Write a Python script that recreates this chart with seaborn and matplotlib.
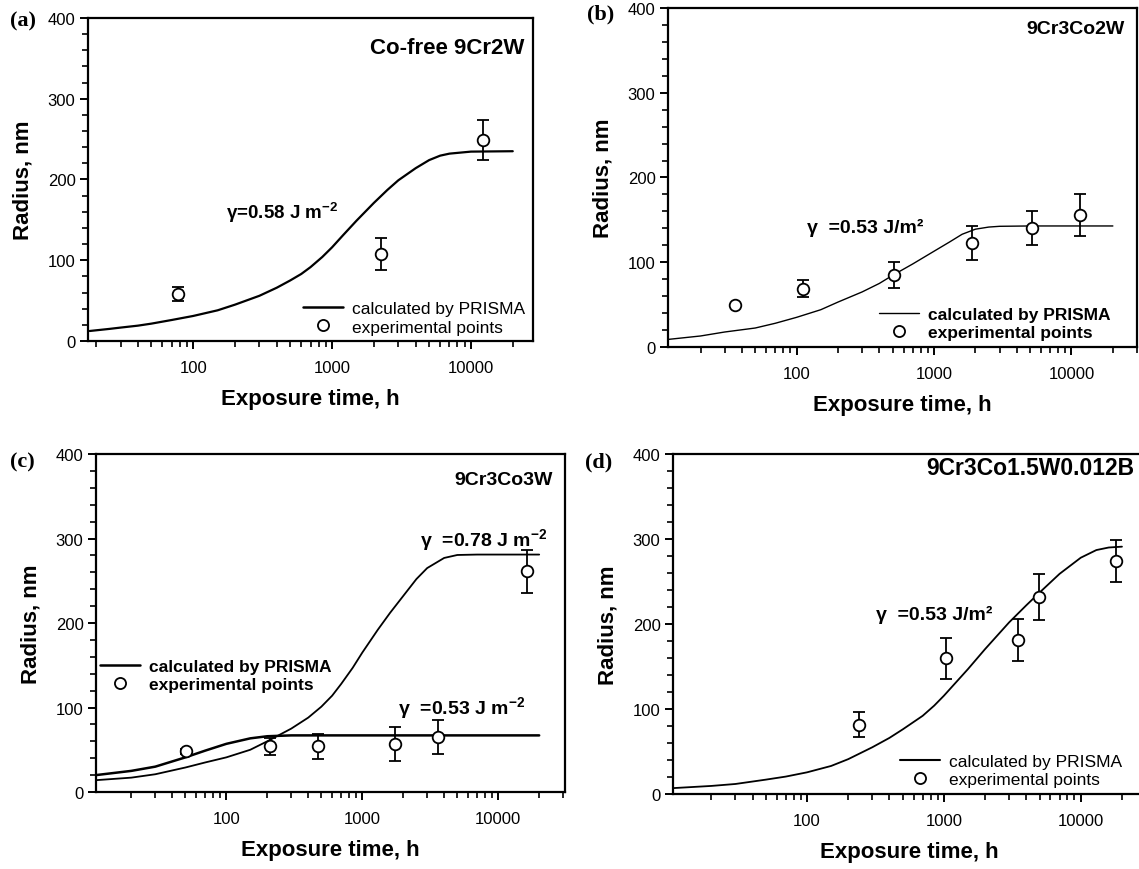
import matplotlib
matplotlib.use("Agg")
import matplotlib.pyplot as plt
import seaborn as sns
from matplotlib.lines import Line2D
from matplotlib.ticker import MultipleLocator, LogLocator, NullFormatter

# ---- data ----
# (a) Co-free 9Cr2W
a_curve_t = [18, 25, 30, 40, 50, 70, 100, 150, 200, 300, 400, 500, 600, 700, 850, 1000, 1200,
             1500, 2000, 2500, 3000, 4000, 5000, 6000, 7000, 10000, 20000]
a_curve_r = [12.4, 15, 16.6, 19, 21.5, 26, 31, 38, 45, 56, 66, 75, 83, 91.5, 104, 116, 131,
             149, 171, 187, 199, 214, 224, 229.5, 232, 234.5, 235]
a_exp_t = [78, 2250, 12300]
a_exp_r = [58, 108, 249]
a_exp_err = [9, 20, 25]

# (b) 9Cr3Co2W
b_curve_t = [11.7, 20, 30, 50, 70, 100, 150, 200, 300, 400, 500, 700, 1000, 1300, 1600,
             2000, 2500, 3000, 5000, 20000]
b_curve_r = [9, 13, 17.7, 22.4, 28, 35, 44, 53, 65, 75, 84.6, 98, 113, 124, 133,
             139, 141.5, 142.4, 142.8, 142.8]
b_exp_t = [35.6, 112, 508, 1900, 5130, 11600]
b_exp_r = [49, 69, 85, 123, 140, 156]
b_exp_err = [0, 10, 15, 20, 20, 25]

# (c) 9Cr3Co3W, two calculated curves
c_hi_t = [11, 20, 30, 50, 70, 100, 150, 200, 300, 400, 500, 600, 700, 850, 1000, 1300, 1600,
          2000, 2500, 3000, 4000, 5000, 7000, 20000]
c_hi_r = [14, 17, 21, 29, 35, 41, 50, 60, 75, 88, 101, 114, 128, 147, 165, 192, 212,
          232, 252, 265, 277, 280.5, 281, 281]
c_lo_t = [11, 20, 30, 50, 70, 100, 150, 200, 300, 20000]
c_lo_r = [20, 25, 30, 41, 49, 57, 63.5, 66, 67, 67]
c_exp_t = [50.7, 210, 469, 1740, 3600, 16400]
c_exp_r = [48, 54, 54, 57, 65, 261]
c_exp_err = [3, 10, 15, 20, 20, 25]

# (d) 9Cr3Co1.5W0.012B
d_curve_t = [10.7, 20, 30, 50, 70, 100, 150, 200, 300, 400, 500, 700, 850, 1000, 1500, 2000,
             3000, 4000, 5000, 7000, 10000, 13000, 16000, 20000]
d_curve_r = [7, 9.5, 11.8, 16.9, 20.5, 25.5, 33, 41, 55, 66, 76, 92, 104, 115.6, 147, 170.5,
             202, 222, 237, 259, 278, 287, 290, 291]
d_exp_t = [240, 1030, 3470, 4980, 18000]
d_exp_r = [81.5, 159.5, 181, 232, 274]
d_exp_err = [15, 24, 25, 27, 25]

x_ticks = [100, 1000, 10000]
x_tick_labels = ["100", "1000", "10000"]
legend_labels = ["calculated by PRISMA", "experimental points"]

sns.set_theme(style="ticks")
plt.rcParams["font.family"] = ["Liberation Sans", "DejaVu Sans"]
plt.rcParams["mathtext.default"] = "regular"
plt.rcParams["text.color"] = "black"
plt.rcParams["axes.labelcolor"] = "black"
plt.rcParams["xtick.color"] = "black"
plt.rcParams["ytick.color"] = "black"

fig = plt.figure(figsize=(11.39, 8.70), dpi=100)


def setup_axis(ax, xlim):
    ax.set_xscale("log")
    ax.set_xlim(*xlim)
    ax.set_ylim(0, 400)
    ax.set_xticks(x_ticks)
    ax.set_xticklabels(x_tick_labels)
    ax.xaxis.set_minor_locator(LogLocator(base=10, subs=range(2, 10)))
    ax.xaxis.set_minor_formatter(NullFormatter())
    ax.yaxis.set_major_locator(MultipleLocator(100))
    ax.yaxis.set_minor_locator(MultipleLocator(20))
    ax.tick_params(which="major", direction="out", length=6, width=1.4,
                   labelsize=12, color="black", labelcolor="black")
    ax.tick_params(which="minor", direction="out", length=4, width=1.2, color="black")
    ax.tick_params(axis="x", which="major", pad=8)
    ax.tick_params(axis="y", which="major", pad=3)
    for s in ax.spines.values():
        s.set_linewidth(1.6)
        s.set_color("black")
    ax.set_xlabel("Exposure time, h", fontsize=16, fontweight="bold", labelpad=9)
    ax.set_ylabel("Radius, nm", fontsize=16, fontweight="bold", labelpad=10)


def draw_points(ax, t, r, err):
    ax.errorbar(t, r, yerr=err, fmt="none", ecolor="black", elinewidth=1.3,
                capsize=4, capthick=1.3, zorder=3)
    sns.scatterplot(x=t, y=r, ax=ax, marker="o", s=70, facecolor="white",
                    edgecolor="black", linewidth=1.3, zorder=4, legend=False)


def add_legend(ax, anchor, lw, weight):
    handles = [Line2D([], [], color="black", lw=lw),
               Line2D([], [], marker="o", ls="none", mfc="white", mec="black",
                      mew=1.3, ms=8)]
    ax.legend(handles, legend_labels, loc="lower left", bbox_to_anchor=anchor,
              frameon=False, borderpad=0, borderaxespad=0, handlelength=2.3,
              handletextpad=0.5, labelspacing=0.2,
              prop={"size": 12.5, "weight": weight})


# (a)
ax_a = fig.add_axes([0.0773, 0.6069, 0.3907, 0.3713])
sns.lineplot(x=a_curve_t, y=a_curve_r, ax=ax_a, color="black", lw=1.6,
             estimator=None, sort=False)
draw_points(ax_a, a_exp_t, a_exp_r, a_exp_err)
setup_axis(ax_a, (17.5, 28000))
ax_a.text(0.98, 0.91, "Co-free 9Cr2W", transform=ax_a.transAxes, ha="right",
          va="center", fontsize=16, fontweight="bold")
ax_a.text(0.31, 0.40, "γ=0.58 J m$^{-2}$", transform=ax_a.transAxes, ha="left",
          va="center", fontsize=13.5, fontweight="bold")
add_legend(ax_a, (0.483, 0.02), 1.8, "normal")

# (b)
ax_b = fig.add_axes([0.5865, 0.6, 0.4118, 0.3897])
sns.lineplot(x=b_curve_t, y=b_curve_r, ax=ax_b, color="black", lw=1.0,
             estimator=None, sort=False)
draw_points(ax_b, b_exp_t, b_exp_r, b_exp_err)
setup_axis(ax_b, (11.6, 30000))
ax_b.text(0.974, 0.94, "9Cr3Co2W", transform=ax_b.transAxes, ha="right",
          va="center", fontsize=14, fontweight="bold")
ax_b.text(0.296, 0.354, "γ  =0.53 J/m²", transform=ax_b.transAxes, ha="left",
          va="center", fontsize=14, fontweight="bold")
add_legend(ax_b, (0.45, 0.02), 1.0, "bold")

# (c)
ax_c = fig.add_axes([0.0843, 0.0885, 0.4118, 0.3885])
sns.lineplot(x=c_hi_t, y=c_hi_r, ax=ax_c, color="black", lw=1.3,
             estimator=None, sort=False)
sns.lineplot(x=c_lo_t, y=c_lo_r, ax=ax_c, color="black", lw=1.8,
             estimator=None, sort=False)
draw_points(ax_c, c_exp_t, c_exp_r, c_exp_err)
setup_axis(ax_c, (11, 31000))
ax_c.text(0.974, 0.925, "9Cr3Co3W", transform=ax_c.transAxes, ha="right",
          va="center", fontsize=14, fontweight="bold")
ax_c.text(0.69, 0.748, "γ  =0.78 J m$^{-2}$", transform=ax_c.transAxes, ha="left",
          va="center", fontsize=14, fontweight="bold")
ax_c.text(0.644, 0.25, "γ  =0.53 J m$^{-2}$", transform=ax_c.transAxes, ha="left",
          va="center", fontsize=14, fontweight="bold")
add_legend(ax_c, (0.0085, 0.295), 1.8, "bold")

# (d)
ax_d = fig.add_axes([0.5909, 0.0862, 0.4153, 0.3908])
sns.lineplot(x=d_curve_t, y=d_curve_r, ax=ax_d, color="black", lw=1.3,
             estimator=None, sort=False)
draw_points(ax_d, d_exp_t, d_exp_r, d_exp_err)
setup_axis(ax_d, (10.5, 30000))
ax_d.text(0.535, 0.96, "9Cr3Co1.5W0.012B", transform=ax_d.transAxes, ha="left",
          va="center", fontsize=16.5, fontweight="bold")
ax_d.text(0.43, 0.53, "γ  =0.53 J/m²", transform=ax_d.transAxes, ha="left",
          va="center", fontsize=14, fontweight="bold")
add_legend(ax_d, (0.48, 0.02), 1.5, "normal")

# panel letters
for lbl, x, y in [("(a)", 0.009, 0.975), ("(b)", 0.515, 0.983),
                  ("(c)", 0.009, 0.468), ("(d)", 0.514, 0.468)]:
    fig.text(x, y, lbl, ha="left", va="center", fontsize=16, fontweight="bold",
             family=["Liberation Serif", "DejaVu Serif"])

fig.savefig("out.png", dpi=100)
